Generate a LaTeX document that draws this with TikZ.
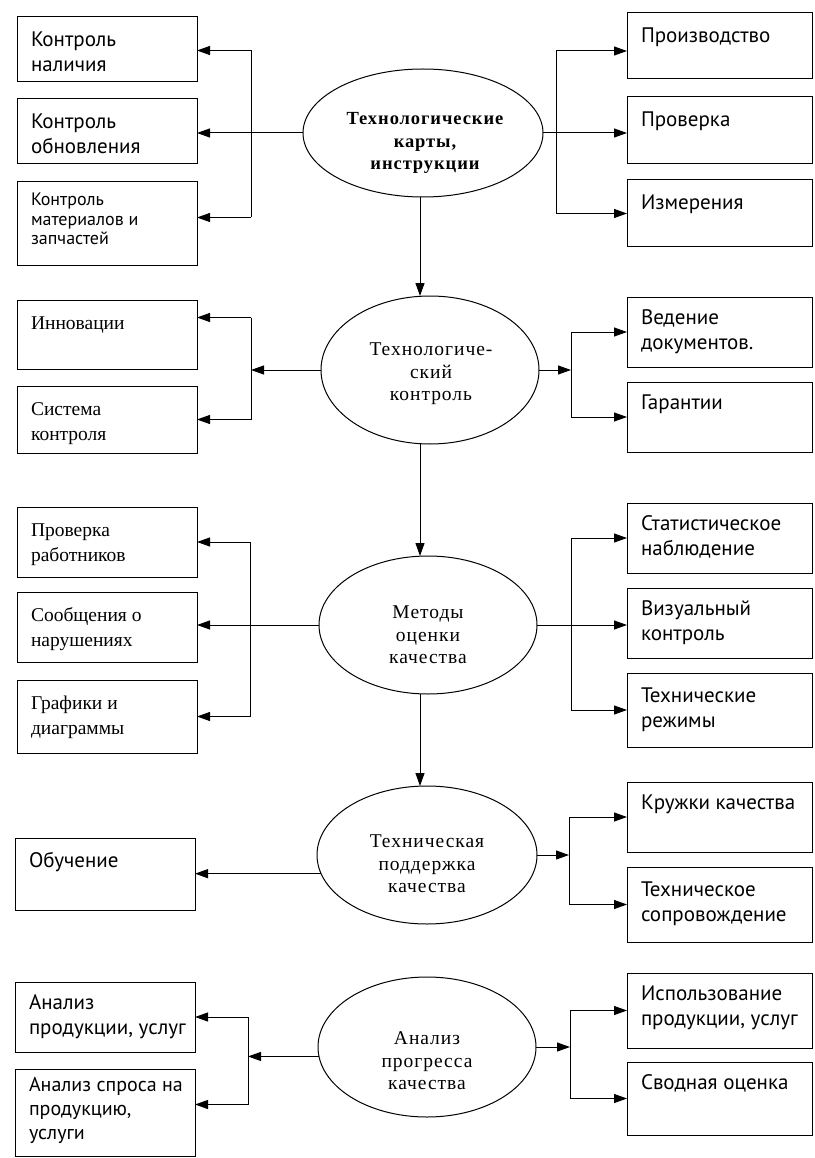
\documentclass[tikz,border=0pt]{standalone}
\usepackage{fontspec}
\setmainfont{Liberation Serif}
\newfontfamily\bsans{PT Sans}
\newfontfamily\bserif{Liberation Serif}
\newfontfamily\efont[LetterSpace=5]{Liberation Serif}
\usetikzlibrary{shapes.geometric,arrows.meta,calc}
\newcommand\sansT{\bsans\fontsize{21}{25}\selectfont}
\newcommand\smallT{\bsans\fontsize{18}{19.5}\selectfont}
\newcommand\serifT{\bserif\fontsize{19.5}{25}\selectfont}
\newcommand\qbox[7]{%
  \node[qbox] (#1) at (#2,#3) {\parbox[c][#5pt][t]{#4pt}{\vspace*{#6pt}\leftskip=14pt #7\par}};}
\newcommand\qell[5]{%
  \node[qell, minimum width=#4pt, minimum height=#5pt] (#1) at (#2,#3) {};}
\begin{document}
\begin{tikzpicture}[x=1pt,y=-1pt,
  qbox/.style={draw, line width=1pt, inner sep=0pt, outer sep=0pt, anchor=north west},
  qell/.style={draw, ellipse, line width=1pt, inner sep=0pt, outer sep=0pt},
  etext/.style={align=center, font=\efont\fontsize{19.5}{22.5}\selectfont, inner sep=0pt},
  conn/.style={line width=1pt},
  arr/.style={line width=1pt, -{Triangle[length=13pt,width=9pt]}}]
\useasboundingbox (0,0) rectangle (814,1158);
\fill[white] (0,0) rectangle (814,1158);
% ---- left boxes
\qbox{l1}{17}{17}{180}{65}{12}{\sansT\strut Контроль\\наличия}
\qbox{l2}{17}{99}{180}{65}{12}{\sansT\strut Контроль\\обновления}
\qbox{l3}{17}{182}{180}{83}{10}{\smallT\strut Контроль\\материалов и\\запчастей}
\qbox{l4}{17}{300}{180}{69}{12}{\serifT\strut Инновации}
\qbox{l5}{17}{386}{180}{67}{12}{\serifT\strut Система\\контроля}
\qbox{l6}{17}{507}{180}{70}{12}{\serifT\strut Проверка\\работников}
\qbox{l7}{17}{592}{180}{70}{12}{\serifT\strut Сообщения о\\нарушениях}
\qbox{l8}{17}{680}{180}{73}{12}{\serifT\strut Графики и\\диаграммы}
\qbox{l9}{15}{838}{180}{72}{12}{\sansT\strut Обучение}
\qbox{l10}{15}{982}{180}{70}{10}{\sansT\strut Анализ\\продукции, услуг}
\qbox{l11}{15}{1069}{180}{87}{6}{\bsans\fontsize{20}{24}\selectfont\strut Анализ спроса на\\продукцию,\\услуги}
% ---- right boxes
\qbox{r1}{627}{13}{185}{66}{12}{\sansT\strut Производство}
\qbox{r2}{627}{97}{185}{67}{12}{\sansT\strut Проверка}
\qbox{r3}{627}{180}{185}{67}{12}{\sansT\strut Измерения}
\qbox{r4}{627}{297}{185}{70}{10}{\sansT\strut Ведение\\документов.}
\qbox{r5}{627}{382}{185}{70}{10}{\sansT\strut Гарантии}
\qbox{r6}{627}{503}{185}{70}{10}{\sansT\strut Статистическое\\наблюдение}
\qbox{r7}{627}{588}{185}{70}{10}{\sansT\strut Визуальный\\контроль}
\qbox{r8}{627}{673}{185}{74}{12}{\sansT\strut Технические\\режимы}
\qbox{r9}{627}{782}{185}{70}{10}{\sansT\strut Кружки качества}
\qbox{r10}{627}{867}{185}{75}{12}{\sansT\strut Техническое\\сопровождение}
\qbox{r11}{627}{973}{185}{75}{10}{\sansT\strut Использование\\продукции, услуг}
\qbox{r12}{627}{1062}{185}{73}{10}{\sansT\strut Сводная оценка}
% ---- ellipses
\qell{e1}{423}{133}{240}{128}
\qell{e2}{430}{370}{218}{148}
\qell{e3}{428}{625}{218}{138}
\qell{e4}{427}{855}{220}{138}
\qell{e5}{427}{1047}{218}{140}
\node[etext, font=\efont\bfseries\fontsize{18.5}{22.5}\selectfont] (t1) at (425,143) {Технологические\\карты,\\инструкции};
\node[etext] (t2) at (431,374) {Технологиче-\\ский\\контроль};
\node[etext] (t3) at (428,635) {Методы\\оценки\\качества};
\node[etext] (t4) at (427,864) {Техническая\\поддержка\\качества};
\node[etext] (t5) at (427,1061) {Анализ\\прогресса\\качества};
% ---- bracket coordinates
\coordinate (bl1) at (251,0);
\coordinate (br1) at (556,0);
\coordinate (bl2) at (251,0);
\coordinate (br2) at (571,0);
\coordinate (bl3) at (250,0);
\coordinate (br3) at (571,0);
\coordinate (br4) at (569,0);
\coordinate (bl5) at (248,0);
\coordinate (br5) at (570,0);
\coordinate (vx) at (420,0);
% ---- group 1
\draw[conn] ($(l1.east -| bl1)+(0,1)$) -- ($(l3.east -| bl1)+(0,-6)$);
\draw[arr] ($(l1.east -| bl1)+(0,1)$) -- ($(l1.east)+(0,1)$);
\draw[arr] ($(l3.east -| bl1)+(0,-6)$) -- ($(l3.east)+(0,-6)$);
\draw[arr] (e1.west) -- (e1.west -| l2.east);
\draw[conn] ($(r1.west -| br1)+(0,5)$) -- (r3.west -| br1);
\draw[arr] ($(r1.west -| br1)+(0,5)$) -- ($(r1.west)+(0,5)$);
\draw[arr] (r3.west -| br1) -- (r3.west);
\draw[arr] (e1.east) -- (e1.east -| r2.west);
% ---- group 2
\draw[conn] ($(l4.east -| bl2)+(0,-17)$) -- (l5.east -| bl2);
\draw[arr] ($(l4.east -| bl2)+(0,-17)$) -- ($(l4.east)+(0,-17)$);
\draw[arr] (l5.east -| bl2) -- (l5.east);
\draw[arr] (e2.west) -- (e2.west -| bl2);
\draw[conn] (r4.west -| br2) -- (r5.west -| br2);
\draw[arr] (r4.west -| br2) -- (r4.west);
\draw[arr] (r5.west -| br2) -- (r5.west);
\draw[arr] (e2.east) -- (e2.east -| br2);
% ---- group 3
\draw[conn] (l6.east -| bl3) -- (l8.east -| bl3);
\draw[arr] (l6.east -| bl3) -- (l6.east);
\draw[arr] (l8.east -| bl3) -- (l8.east);
\draw[arr] (e3.west) -- (e3.west -| l7.east);
\draw[conn] (r6.west -| br3) -- (r8.west -| br3);
\draw[arr] (r6.west -| br3) -- (r6.west);
\draw[arr] (r8.west -| br3) -- (r8.west);
\draw[arr] (e3.east) -- (e3.east -| r7.west);
% ---- group 4
\draw[arr] (e4.190) -- (e4.190 -| l9.east);
\draw[conn] (r9.west -| br4) -- (r10.west -| br4);
\draw[arr] (r9.west -| br4) -- (r9.west);
\draw[arr] (r10.west -| br4) -- (r10.west);
\draw[arr] (e4.east) -- (e4.east -| br4);
% ---- group 5
\draw[conn] (l10.east -| bl5) -- ($(l11.east -| bl5)+(0,-8)$);
\draw[arr] (l10.east -| bl5) -- (l10.east);
\draw[arr] ($(l11.east -| bl5)+(0,-8)$) -- ($(l11.east)+(0,-8)$);
\draw[arr] (e5.185) -- (e5.185 -| bl5);
\draw[conn] (r11.west -| br5) -- (r12.west -| br5);
\draw[arr] (r11.west -| br5) -- (r11.west);
\draw[arr] (r12.west -| br5) -- (r12.west);
\draw[arr] (e5.east) -- (e5.east -| br5);
% ---- vertical arrows
\draw[arr] (e1.south -| vx) -- (e2.north -| vx);
\draw[arr] (e2.south -| vx) -- (e3.north -| vx);
\draw[arr] (e3.south -| vx) -- (e4.north -| vx);
\end{tikzpicture}
\end{document}
